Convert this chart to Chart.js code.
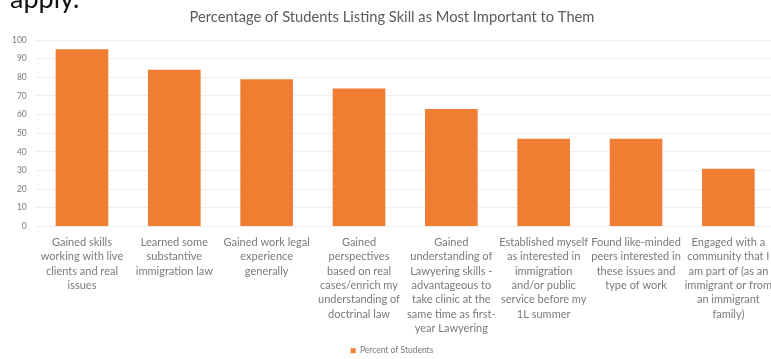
<!DOCTYPE html>
<html>
<head>
<meta charset="utf-8">
<script src="https://cdn.jsdelivr.net/npm/chart.js@4"></script>
<style>
  html, body { margin: 0; padding: 0; background: #fff; }
  #wrap { position: relative; width: 771px; height: 359px; overflow: hidden; }
  #chart { position: absolute; left: 0; top: 0; }
  #apply { position: absolute; left: 10px; top: -18px; font: 27px Lato, sans-serif; line-height: 1.2; color: #111; }
</style>
</head>
<body>
<div id="wrap">
  <canvas id="chart" width="781" height="365"></canvas>
  <div id="apply">apply.</div>
</div>
<script>
const skills = [
  ["Gained skills", "working with live", "clients and real", "issues"],
  ["Learned some", "substantive", "immigration law"],
  ["Gained work legal", "experience", "generally"],
  ["Gained", "perspectives", "based on real", "cases/enrich my", "understanding of", "doctrinal law"],
  ["Gained", "understanding of", "Lawyering skills -", "advantageous to", "take clinic at the", "same time as first-", "year Lawyering"],
  ["Established myself", "as interested in", "immigration", "and/or public", "service before my", "1L summer"],
  ["Found like-minded", "peers interested in", "these issues and", "type of work"],
  ["Engaged with a", "community that I", "am part of (as an", "immigrant or from", "an immigrant", "family)"]
];
const percent = [95, 84, 79, 74, 63, 47, 47, 31];
const yTicks = [0, 10, 20, 30, 40, 50, 60, 70, 80, 90, 100];

const grey = "#7a7a7a";

new Chart(document.getElementById("chart"), {
  type: "bar",
  data: {
    labels: skills,
    datasets: [{
      label: "Percent of Students",
      data: percent,
      backgroundColor: "#ef7d32",
      categoryPercentage: 1,
      barPercentage: 0.57
    }]
  },
  options: {
    responsive: false,
    animation: false,
    layout: { padding: { left: 3, right: 0, top: 0, bottom: 0 } },
    plugins: {
      title: {
        display: true,
        text: "Percentage of Students Listing Skill as Most Important to Them",
        color: "#5a5a5a",
        font: { family: "Lato", size: 14.7, weight: "normal" },
        padding: { top: 8, bottom: 14.4 }
      },
      legend: {
        position: "bottom",
        labels: {
          color: grey,
          font: { family: "Lato", size: 8.5 },
          boxWidth: 5,
          boxHeight: 5,
          padding: 2
        }
      },
      tooltip: { enabled: false }
    },
    scales: {
      x: {
        grid: { display: false, drawTicks: false },
        border: { display: false },
        ticks: {
          color: grey,
          maxRotation: 0,
          autoSkip: false,
          font: { family: "Lato", size: 11, lineHeight: 1.3 },
          padding: 9
        }
      },
      y: {
        min: 0,
        max: 100,
        afterBuildTicks: axis => { axis.ticks = yTicks.map(v => ({ value: v })); },
        grid: { color: "#eeeeee", drawTicks: false },
        border: { display: false },
        ticks: {
          color: grey,
          font: { family: "Lato", size: 8.5 },
          padding: 9
        }
      }
    }
  }
});
</script>
</body>
</html>
